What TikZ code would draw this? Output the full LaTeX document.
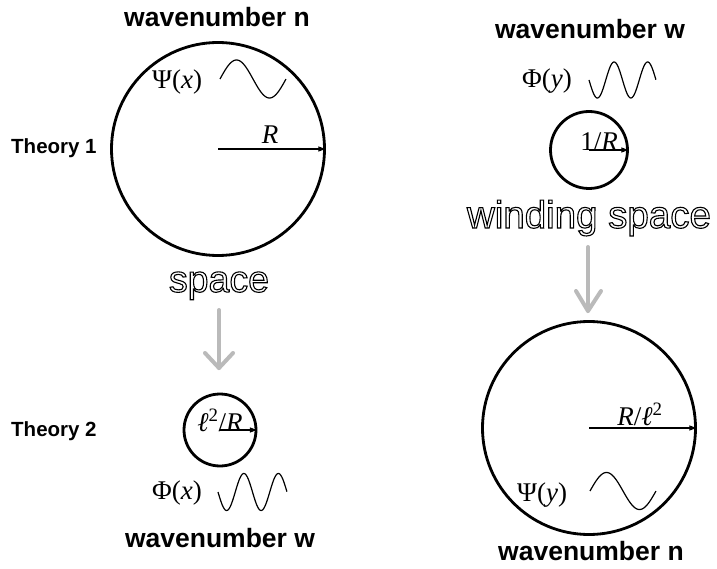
\documentclass[tikz,border=0pt]{standalone}
\usepackage{fontspec}
\setmainfont{Liberation Serif}
\newfontfamily\hfont{Liberation Sans}
\usetikzlibrary{arrows.meta,calc}
\newcommand\outlinetext[1]{\special{pdf:code q 1 Tr 1.1 w 0 G}#1\special{pdf:code Q}}
\begin{document}
\begin{tikzpicture}[x=1pt,y=-1pt,
  ring/.style={circle,draw,line width=2.8pt,inner sep=0pt},
  radarrow/.style={line width=1.1pt,-{Triangle[length=7pt,width=5pt]},shorten >=0.5pt},
  wave/.style={line width=1.2pt},
  heading/.style={font=\hfont\bfseries\fontsize{26.5}{30}\selectfont,anchor=base,inner sep=0pt},
  theory/.style={font=\hfont\bfseries\fontsize{20.5}{24}\selectfont,anchor=base west,inner sep=0pt},
  lbl/.style={font=\fontsize{27}{30}\selectfont,anchor=base,inner sep=0pt},
  grayarrow/.style={line width=4pt,color=black!27,line cap=round,line join=round},
  otext/.style={font=\hfont\fontsize{#1}{#1}\selectfont,anchor=base,inner sep=0pt},
]
\fill[white] (0,0) rectangle (717,569);
\useasboundingbox (0,0) rectangle (717,569);

% headings
\node[heading] (h1) at (217,27) {wavenumber n};
\node[heading] (h2) at (590,39) {wavenumber w};
\node[heading] (h3) at (220,547) {wavenumber w};
\node[heading] (h4) at (591,560) {wavenumber n};
\node[theory] (t1) at (11,154) {Theory 1};
\node[theory] (t2) at (11,436) {Theory 2};

% circles
\node[ring,minimum size=213pt] (c1) at (218,149) {};
\node[ring,minimum size=72pt] (c2) at (220,430) {};
\node[ring,minimum size=77pt] (c3) at (589,150) {};
\node[ring,minimum size=213pt] (c4) at (589,428) {};

\draw[radarrow] (c1.center) -- (c1.east);
\draw[radarrow] (c2.center) -- (c2.east);
\draw[radarrow] (c3.center) -- (c3.east);
\draw[radarrow] (c4.center) -- (c4.east);

% labels
\node[lbl] (lR) at (270,144) {\textit{R}};
\node[lbl,anchor=base west] (lpsix) at (152,89) {Ψ(\textit{x})};
\node[lbl] (lr2) at (220,431) {\textit{ℓ}\textsuperscript{2}/\textit{R}};
\node[lbl,anchor=base west] (lphix) at (152,499) {Φ(\textit{x})};
\node[lbl] (lr3) at (599,151) {1/\textit{R}};
\node[lbl,anchor=base west] (lphiy) at (522,88) {Φ(\textit{y})};
\node[lbl] (lr4) at (640,425) {\textit{R}/\textit{ℓ}\textsuperscript{2}};
\node[lbl,anchor=base west] (lpsiy) at (517,501) {Ψ(\textit{y})};

% waves
\draw[wave] plot[domain=0:1,samples=90,smooth] ({220+66*\x},{79-19*sin(360*\x)});
\draw[wave] plot[domain=0:1,samples=120,smooth] ({218+69*\x},{492+18.5*sin(720*\x)});
\draw[wave] plot[domain=0:1,samples=120,smooth] ({589+67*\x},{80+18*sin(720*\x)});
\draw[wave] plot[domain=0:1,samples=90,smooth] ({590+66*\x},{491-18.5*sin(360*\x)});

% outlined texts
\node[otext=37.5] (spl) at (219,292) {\outlinetext{space}};
\node[otext=38.5] (wsl) at (589,228) {\outlinetext{winding space}};

% gray arrows
\coordinate (g1s) at (219,310);
\coordinate (g1t) at (219,368);
\draw[grayarrow] (g1s) -- (g1t);
\draw[grayarrow] ($(g1t)+(-14,-15)$) -- (g1t) -- ($(g1t)+(14,-15)$);
\coordinate (g2s) at (588,247);
\coordinate (g2t) at (588,311);
\draw[grayarrow] (g2s) -- (g2t);
\draw[grayarrow] ($(g2t)+(-12,-20)$) -- (g2t) -- ($(g2t)+(13,-20)$);
\end{tikzpicture}
\end{document}
